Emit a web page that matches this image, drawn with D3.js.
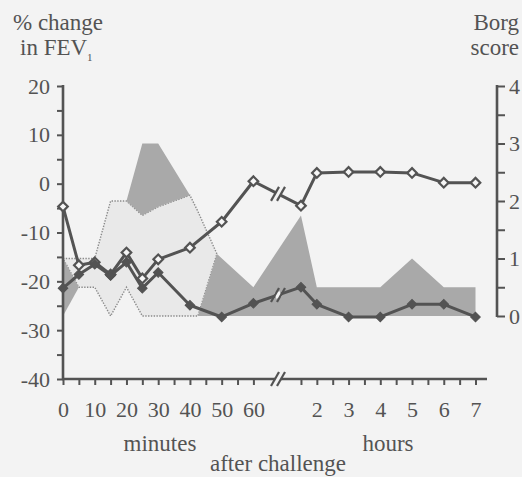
<!DOCTYPE html>
<html><head><meta charset="utf-8">
<script src="https://cdn.jsdelivr.net/npm/d3@7"></script>
<style>
html,body{margin:0;padding:0;background:#f3f3f3;}
svg{display:block;}
svg text{font-family:"Liberation Serif","Times New Roman",serif !important;}
</style></head><body>
<svg id="chart" width="522" height="477"></svg>
<script>
// ---------- data ----------
// sampling times, minutes after challenge (90 = 1.5 h, 120 = 2 h ...)
const times = [0, 5, 10, 15, 20, 25, 30, 40, 50, 60, 90, 120, 180, 240, 300, 360, 420];
// % change in FEV1
const fevOpen   = [-4.7, -16.7, -16.1, -18.6, -14.1, -19.4, -15.5, -13.1, -7.8, 0.5, -4.5, 2.2, 2.4, 2.4, 2.2, 0.2, 0.2];
const fevFilled = [-21.4, -18.6, -16.5, -18.8, -16.1, -21.4, -18.2, -24.9, -27.3, -24.5, -21.2, -24.7, -27.3, -27.3, -24.7, -24.7, -27.3];
// Borg score shading (light band)
const lightTimes = [0, 5, 10, 15, 20, 25, 30, 40, 42.5, 48.5];
const lightHigh  = [1, 1, 1, 2, 2, 1.75, 1.9, 2.1, 1.82, 1.08];
const lightLow   = [1, 0.5, 0.5, 0, 0.5, 0, 0, 0, 0, 1.08];
// Borg score shading (dark regions)
const darkTimesA = [0, 5];
const darkLowA   = [0, 0.5];
const darkHighA  = [1, 0.5];
const darkTimesB = [20, 25, 30, 40];
const darkLowB   = [2, 1.75, 1.9, 2.1];
const darkHighB  = [2, 3, 3, 2.1];
const darkTimesC = [42.5, 48.5, 60, 90, 120, 180, 240, 300, 360, 420];
const darkLowC   = [0, 0, 0, 0, 0, 0, 0, 0, 0, 0];
const darkHighC  = [0, 1.08, 0.5, 1.75, 0.5, 0.5, 0.5, 1, 0.5, 0.5];
// ticks
const fevTicks = [-40, -30, -20, -10, 0, 10, 20];
const borgTicks = [0, 1, 2, 3, 4];
const minuteTicks = [0, 10, 20, 30, 40, 50, 60];
const hourTicks = [2, 3, 4, 5, 6, 7];

// ---------- setup ----------
const INK = "#535353", BG = "#f3f3f3", FONT = "Liberation Serif, Times New Roman, serif";
const svg = d3.select("#chart");
svg.append("rect").attr("width", 522).attr("height", 477).attr("fill", BG);

const xMin = d3.scaleLinear().domain([0, 60]).range([63, 253.4]);
const xHr = d3.scaleLinear().domain([1, 7]).range([285.1, 475.5]);
const x = t => t <= 60 ? xMin(t) : xHr(t / 60);
const yFev = d3.scaleLinear().domain([-40, 20]).range([379, 86]);
const yBorg = d3.scaleLinear().domain([0, 4]).range([316, 86]);

// ---------- shading ----------
function band(ts, lo, hi) {
  return ts.map((t, i) => ({ t, lo: lo[i], hi: hi[i] }));
}
const area = d3.area().x(d => x(d.t)).y0(d => yBorg(d.lo)).y1(d => yBorg(d.hi));

svg.append("path").datum(band(lightTimes, lightLow, lightHigh))
  .attr("d", area).attr("fill", "#e9e9e9")
  .attr("stroke", "#8a8a8a").attr("stroke-width", 1.4).attr("stroke-dasharray", "1.4,1.4");

[[darkTimesA, darkLowA, darkHighA], [darkTimesB, darkLowB, darkHighB], [darkTimesC, darkLowC, darkHighC]]
  .forEach(([ts, lo, hi]) => {
    svg.append("path").datum(band(ts, lo, hi)).attr("d", area).attr("fill", "#a9a9a9");
  });

// ---------- axes ----------
function styleAxis(g) {
  g.attr("font-family", FONT).attr("font-size", 22);
  g.select(".domain").remove();
  g.selectAll(".tick line").attr("stroke", INK).attr("stroke-width", 2);
  g.selectAll(".tick text").attr("fill", INK).attr("font-family", FONT).attr("font-size", 22);
}
// left FEV axis
svg.append("g").attr("transform", "translate(63,0)")
  .call(d3.axisLeft(yFev).tickValues(d3.range(-40, 21, 5)).tickSize(6).tickPadding(7)
    .tickFormat(d => fevTicks.includes(d) ? String(d) : ""))
  .call(styleAxis);
svg.append("line").attr("x1", 63).attr("x2", 63).attr("y1", yFev(20) - 1).attr("y2", yFev(-40))
  .attr("stroke", INK).attr("stroke-width", 2.6);

// right Borg axis
svg.append("g").attr("transform", "translate(497,0)")
  .call(d3.axisRight(yBorg).tickValues(d3.range(0, 4.01, 0.5)).tickSize(8).tickPadding(4)
    .tickFormat(d => borgTicks.includes(d) ? String(d) : ""))
  .call(styleAxis);
svg.append("line").attr("x1", 497).attr("x2", 497).attr("y1", yBorg(4) - 1).attr("y2", yBorg(0) + 1)
  .attr("stroke", INK).attr("stroke-width", 2.6);

// bottom time axes
const y0 = yFev(-40);
svg.append("g").attr("transform", `translate(0,${y0})`)
  .call(d3.axisBottom(xMin).tickValues(d3.range(0, 61, 5)).tickSize(6).tickPadding(16)
    .tickFormat(d => minuteTicks.includes(d) ? String(d) : ""))
  .call(styleAxis);
svg.append("g").attr("transform", `translate(0,${y0})`)
  .call(d3.axisBottom(xHr).tickValues(d3.range(1.5, 7.01, 0.5)).tickSize(6).tickPadding(16)
    .tickFormat(d => hourTicks.includes(d) ? String(d) : ""))
  .call(styleAxis);
const XB = 278;
svg.append("line").attr("x1", 62).attr("x2", XB - 3).attr("y1", y0).attr("y2", y0)
  .attr("stroke", INK).attr("stroke-width", 2.6);
svg.append("line").attr("x1", XB + 3).attr("x2", 487).attr("y1", y0).attr("y2", y0)
  .attr("stroke", INK).attr("stroke-width", 2.6);

function breakStrokes(cx, cy) {
  [-3, 3].forEach(o => {
    svg.append("line").attr("x1", cx + o - 4).attr("y1", cy + 7).attr("x2", cx + o + 4).attr("y2", cy - 7)
      .attr("stroke", INK).attr("stroke-width", 2.2);
  });
}
breakStrokes(XB, y0);

// ---------- lines ----------
const line = d3.line().x(d => x(d.t)).y(d => yFev(d.v));
function series(vals) { return times.map((t, i) => ({ t, v: vals[i] })); }
const diamond = d3.symbol(d3.symbolSquare, 46);

function drawSeries(vals, open) {
  const pts = series(vals);
  svg.append("path").datum(pts).attr("d", line).attr("fill", "none")
    .attr("stroke", INK).attr("stroke-width", 3).attr("stroke-linejoin", "round");
  // break on the line between 60 min and 1.5 h
  const a = pts[times.indexOf(60)], b = pts[times.indexOf(90)];
  const ax = x(a.t), ay = yFev(a.v), bx = x(b.t), by = yFev(b.v);
  const f = (XB - ax) / (bx - ax), cy = ay + f * (by - ay);
  const len = Math.hypot(bx - ax, by - ay), ux = (bx - ax) / len, uy = (by - ay) / len;
  svg.append("line").attr("x1", XB - 3 * ux).attr("y1", cy - 3 * uy).attr("x2", XB + 3 * ux).attr("y2", cy + 3 * uy)
    .attr("stroke", BG).attr("stroke-width", 6);
  breakStrokes(XB, cy);
  svg.append("g").selectAll("path").data(pts).join("path")
    .attr("d", diamond)
    .attr("transform", d => `translate(${x(d.t)},${yFev(d.v)}) rotate(45)`)
    .attr("fill", open ? "#f6f6f6" : INK)
    .attr("stroke", INK).attr("stroke-width", open ? 2.2 : 1);
}
drawSeries(fevOpen, true);
drawSeries(fevFilled, false);

// ---------- titles ----------
function txt(s, xx, yy, anchor, size) {
  return svg.append("text").attr("x", xx).attr("y", yy).attr("text-anchor", anchor || "start")
    .attr("font-family", FONT).attr("font-size", size || 23).attr("fill", INK).text(s);
}
txt("% change", 13, 30);
const t2 = txt("in FEV", 20, 55);
t2.append("tspan").attr("font-size", 11).attr("dy", 6).text("1");
txt("Borg", 519, 30, "end");
txt("score", 519, 55, "end");
txt("minutes", 160, 451, "middle");
txt("hours", 388, 451, "middle");
txt("after challenge", 278, 471, "middle");
</script>
</body></html>
